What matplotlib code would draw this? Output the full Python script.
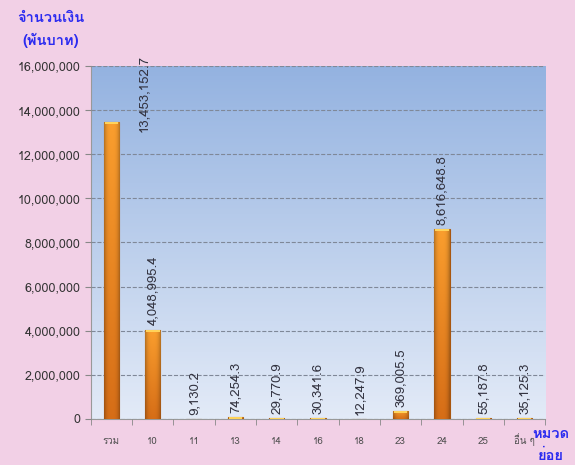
import numpy as np
import matplotlib.pyplot as plt
from matplotlib import font_manager
from matplotlib.ft2font import FT2Font
from matplotlib.ticker import FuncFormatter

categories = ['รวม', '10', '11', '13', '14', '16', '18', '23', '24', '25', 'อื่น ๆ']
values = [13453152.7, 4048995.4, 9130.2, 74254.3, 29770.9, 30341.6,
          12247.9, 369005.5, 8616648.8, 55187.8, 35125.3]
value_labels = ['13,453,152.7', '4,048,995.4', '9,130.2', '74,254.3', '29,770.9',
                '30,341.6', '12,247.9', '369,005.5', '8,616,648.8', '55,187.8', '35,125.3']
yticks = np.arange(0, 16000001, 2000000)

# pick an installed font that has Thai glyphs
thai_font = None
for f in font_manager.fontManager.ttflist:
    try:
        if ord('จ') in FT2Font(f.fname).get_charmap():
            thai_font = f.name
            break
    except Exception:
        pass
families = ['DejaVu Sans']
if thai_font:
    families = [thai_font, 'DejaVu Sans']
plt.rcParams['font.family'] = families

pink = '#F2D0E6'
fig = plt.figure(figsize=(5.75, 4.65), dpi=100, facecolor=pink)
ax = fig.add_axes([0.158, 0.099, 0.79, 0.759])

# plot area gradient
grad = np.linspace(0, 1, 256).reshape(-1, 1)
top = np.array([0.58, 0.70, 0.88])
bot = np.array([0.89, 0.92, 0.97])
img = bot + (top - bot) * grad
ax.imshow(img[:, None, :].repeat(2, axis=1), extent=[-0.5, 10.5, 0, 16000000],
          origin='lower', aspect='auto', zorder=0)

x = np.arange(len(categories))
bars = ax.bar(x, values, width=0.37, color='#F39426', edgecolor='#A8560F',
              linewidth=0.8, zorder=3)

# orange shading on bars
hshade = np.abs(np.linspace(-1, 1, 64))
for b in bars:
    h = b.get_height()
    vg = np.linspace(0, 1, 64).reshape(-1, 1)
    c_top = np.array([0.98, 0.62, 0.18])
    c_bot = np.array([0.84, 0.43, 0.09])
    col = c_bot + (c_top - c_bot) * vg
    col = col[:, None, :] * (1 - 0.28 * hshade[None, :, None] ** 3)
    im = ax.imshow(np.clip(col, 0, 1), extent=[b.get_x(), b.get_x() + b.get_width(), 0, h],
                   origin='lower', aspect='auto', zorder=3.5)
    im.set_clip_path(b)
    cap = min(h, 90000)
    ax.bar(b.get_x() + b.get_width() / 2, cap, bottom=h - cap,
           width=b.get_width() * 0.9, color='#FFD35A', linewidth=0, zorder=3.6)

# value labels
for i, v in enumerate(values):
    if v > 12000000:
        ax.text(i + 0.78, 16500000, value_labels[i], rotation=90, ha='center', va='top',
                fontsize=9.5, color='#333340', zorder=5, clip_on=False)
    else:
        ax.annotate(value_labels[i], (i, v), xytext=(0, 3), textcoords='offset points',
                    rotation=90, ha='center', va='bottom',
                    fontsize=9.5, color='#333340', zorder=5)

ax.set_xlim(-0.5, 10.5)
ax.set_ylim(0, 16000000)
ax.set_yticks(yticks)
ax.yaxis.set_major_formatter(FuncFormatter(lambda v, p: '{:,.0f}'.format(v)))
ax.grid(axis='y', linestyle='--', color='#7F8898', linewidth=0.8, zorder=1)
ax.set_axisbelow(False)
ax.set_xticks(x)
ax.set_xticklabels(categories, fontsize=7, color='#505050', va='baseline')
ax.set_xticks(np.arange(-0.5, 11, 1), minor=True)
ax.tick_params(axis='x', which='major', length=0, pad=18)
ax.tick_params(axis='x', which='minor', length=4, color='#888888')
ax.tick_params(axis='y', labelsize=9, colors='#888888', labelcolor='#333333', length=4)
for s in ['top', 'right']:
    ax.spines[s].set_visible(False)
ax.spines['left'].set_color('#999999')
ax.spines['bottom'].set_color('#999999')

fig.text(0.088, 0.962, 'จำนวนเงิน', color='#2B2BF0', fontsize=10.5, fontweight='bold',
         ha='center', va='center')
fig.text(0.088, 0.914, '(พันบาท)', color='#2B2BF0', fontsize=10.5, fontweight='bold',
         ha='center', va='center')
fig.text(0.958, 0.067, 'หมวด', color='#2B2BF0', fontsize=10.5, fontweight='bold',
         ha='center', va='center')
fig.text(0.958, 0.019, 'ย่อย', color='#2B2BF0', fontsize=10.5, fontweight='bold',
         ha='center', va='center')

plt.savefig('out.png', dpi=100, facecolor=pink)
